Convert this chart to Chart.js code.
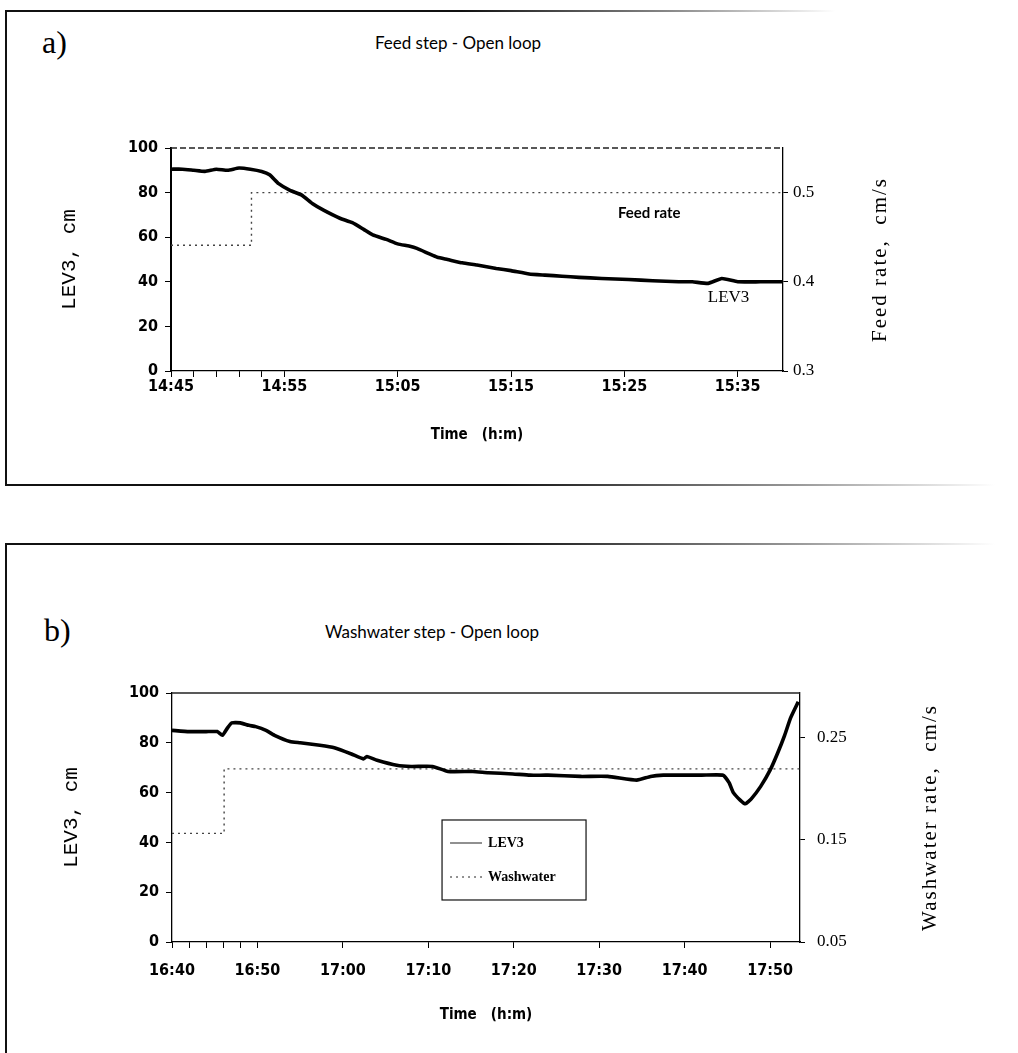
<!DOCTYPE html>
<html>
<head>
<meta charset="utf-8">
<script src="https://cdn.jsdelivr.net/npm/chart.js@4.4.1/dist/chart.umd.min.js"></script>
<style>
  html, body { margin: 0; padding: 0; background: #fff; }
  body { width: 1018px; height: 1053px; position: relative; overflow: hidden; }
  canvas { position: absolute; left: 0; }
  #chart-a { top: 0; }
  #chart-b { top: 520px; }
  .rule { position: absolute; }
  .tag { position: absolute; font-family: 'Liberation Serif', serif; font-size: 32px; color: #000; }
  .ptitle { position: absolute; font-family: Lato, sans-serif; font-size: 17px; color: #000;
            transform: translateX(-50%); white-space: nowrap; }
</style>
</head>
<body>
  <!-- panel frames, faded to the right like the scan -->
  <div class="rule" style="left:5px;top:10px;width:2px;height:475px;background:#111"></div>
  <div class="rule" style="left:5px;top:10px;width:830px;height:1.5px;background:linear-gradient(to right,#111 0%,#111 55%,#888 80%,rgba(0,0,0,0) 100%)"></div>
  <div class="rule" style="left:5px;top:484px;width:990px;height:1.5px;background:linear-gradient(to right,#111 0%,#111 50%,#999 80%,rgba(0,0,0,0) 100%)"></div>
  <div class="rule" style="left:5px;top:543px;width:990px;height:1.5px;background:linear-gradient(to right,#111 0%,#111 50%,#999 80%,rgba(0,0,0,0) 100%)"></div>
  <div class="rule" style="left:5px;top:543px;width:2px;height:510px;background:#111"></div>

  <div class="tag" style="left:42px;top:24px">a)</div>
  <div class="ptitle" style="left:458px;top:32px">Feed step - Open loop</div>
  <div class="tag" style="left:44px;top:612px">b)</div>
  <div class="ptitle" style="left:432px;top:621px">Washwater step - Open loop</div>

  <canvas id="chart-a" width="1018" height="500"></canvas>
  <canvas id="chart-b" width="1018" height="533"></canvas>

<script>
// ---- panel a: minutes after 14:45 ----
const timeA = [0, 1, 2, 3, 4, 5, 6, 7, 8, 8.7, 9.5, 10.5, 11.5, 12.5, 13.5, 14.9, 16, 17, 17.8, 19, 20,
  21, 21.7, 22.8, 23.5, 24.4, 25.7, 27, 28.7, 30, 31.6, 33, 34.5, 36, 38, 40.4, 42.5, 44.8, 46,
  47.4, 48.6, 50, 52, 54];
const lev3A = [90.5, 90.5, 90, 89.5, 90.5, 90, 91, 90.5, 89.5, 88, 84, 81, 79, 75, 72, 68.5, 66.5, 63.5, 61, 59, 57,
  56, 55, 52.5, 51, 50, 48.5, 47.5, 46, 45, 43.5, 43, 42.5, 42, 41.5, 41, 40.5, 40, 40,
  39.3, 41.5, 40, 40, 40];
const feedTime = [0, 7.1, 54];
const feedRate = [0.441, 0.5, 0.5];
const tickMinA = [0, 2, 4, 6, 8, 10, 20, 30, 40, 50];
const tickLabelA = ['14:45', '14:55', '15:05', '15:15', '15:25', '15:35'];
const rateTicksA = [0.3, 0.4, 0.5];

// ---- panel b: minutes after 16:40 ----
const timeB = [0, 2, 4, 5.3, 5.9, 6.5, 7, 8, 9, 9.8, 11, 12, 13.8, 15, 17.3, 19, 21, 22.4, 22.8, 24,
  26.3, 28, 30.5, 32.3, 35.2, 37, 39.9, 41.9, 44, 47.8, 51, 54.4, 56, 57.5, 60, 62, 64.5, 65.2, 65.7, 66.5,
  67.1, 67.8, 68.9, 70, 70.9, 71.7, 72.4, 73.3];
const lev3B = [85, 84.5, 84.5, 84.5, 83, 86, 88, 88, 87, 86.5, 85, 83, 80.5, 80, 79, 78, 75.5, 73.5, 74.5, 73,
  71, 70.5, 70.5, 68.5, 68.5, 68, 67.5, 67, 67, 66.5, 66.5, 65, 66.5, 67, 67, 67, 67, 64, 60, 57,
  55.5, 57.5, 62.5, 69, 76, 83, 90, 96.5];
const washTime = [0, 6.1, 73.5];
const washRate = [0.156, 0.219, 0.219];
const tickMinB = [0, 2, 4, 6, 8, 10, 20, 30, 40, 50, 60, 70];
const tickLabelB = ['16:40', '16:50', '17:00', '17:10', '17:20', '17:30', '17:40', '17:50'];
const rateTicksB = [0.05, 0.15, 0.25];

const levelTicks = [0, 20, 40, 60, 80, 100];

const pts = (xs, ys) => xs.map((x, i) => ({ x: x, y: ys[i] }));
const tickFont = { family: "'DejaVu Sans Condensed', 'DejaVu Sans', sans-serif", size: 16, weight: 'bold' };

// top edge of the plot box
const framePlugin = {
  id: 'frame',
  afterDatasetsDraw(chart, args, o) {
    const ctx = chart.ctx, a = chart.chartArea;
    ctx.save();
    ctx.strokeStyle = '#222';
    ctx.lineWidth = 1.3;
    ctx.setLineDash(o.dash || []);
    ctx.beginPath();
    ctx.moveTo(a.left, a.top);
    ctx.lineTo(a.right, a.top);
    ctx.stroke();
    ctx.restore();
  }
};

// in-plot text labels, placed in data units
const notesPlugin = {
  id: 'notes',
  afterDraw(chart, args, o) {
    if (!o.items) return;
    const ctx = chart.ctx;
    ctx.save();
    ctx.fillStyle = '#000';
    ctx.textAlign = 'center';
    ctx.textBaseline = 'middle';
    o.items.forEach(n => {
      ctx.font = n.font;
      ctx.fillText(n.text, chart.scales.x.getPixelForValue(n.x), chart.scales.y.getPixelForValue(n.y));
    });
    ctx.restore();
  }
};

// boxed legend inside the plot (panel b)
const boxLegendPlugin = {
  id: 'boxLegend',
  afterDraw(chart, args, o) {
    if (!o.w) return;
    const ctx = chart.ctx, a = chart.chartArea;
    const x0 = a.left + o.x * (a.right - a.left), y0 = a.top + o.y * (a.bottom - a.top);
    ctx.save();
    ctx.strokeStyle = '#111';
    ctx.lineWidth = 1.2;
    ctx.strokeRect(x0, y0, o.w, o.h);
    ctx.font = 'bold 14px "Liberation Serif", serif';
    ctx.fillStyle = '#000';
    ctx.textBaseline = 'middle';
    chart.data.datasets.forEach((ds, i) => {
      const yy = y0 + 23 + i * 34;
      ctx.beginPath();
      ctx.setLineDash(ds.borderDash || []);
      ctx.lineWidth = 1.2;
      ctx.strokeStyle = '#222';
      ctx.moveTo(x0 + 8, yy);
      ctx.lineTo(x0 + 40, yy);
      ctx.stroke();
      ctx.fillText(ds.label, x0 + 46, yy);
    });
    ctx.restore();
  }
};

// right-hand axis title, reading bottom to top like the left one
const sideTitlePlugin = {
  id: 'sideTitle',
  afterDraw(chart, args, o) {
    if (!o.text) return;
    const ctx = chart.ctx, s = chart.scales.y1, a = chart.chartArea;
    ctx.save();
    ctx.translate(s.left + o.dx, (a.top + a.bottom) / 2);
    ctx.rotate(-Math.PI / 2);
    ctx.font = o.font;
    ctx.fillStyle = '#000';
    ctx.textAlign = 'center';
    ctx.textBaseline = 'middle';
    if ('letterSpacing' in ctx) ctx.letterSpacing = o.spacing;
    ctx.fillText(o.text, 0, 0);
    ctx.restore();
  }
};

function makeChart(id, p) {
  return new Chart(document.getElementById(id), {
    type: 'line',
    data: {
      datasets: [
        { label: 'LEV3', data: pts(p.time, p.level), yAxisID: 'y', borderColor: '#000',
          borderWidth: 3.6, pointRadius: 0, tension: 0.15 },
        { label: p.rateName, data: pts(p.rateTime, p.rate), yAxisID: 'y1', stepped: true,
          borderColor: '#444', borderWidth: 1.4, borderDash: [2, 4], pointRadius: 0 }
      ]
    },
    options: {
      responsive: false,
      animation: false,
      layout: { padding: p.pad },
      plugins: {
        legend: { display: false },
        tooltip: { enabled: false },
        frame: { dash: p.topDash },
        notes: { items: p.notes },
        boxLegend: p.legend,
        sideTitle: p.sideTitle
      },
      scales: {
        x: {
          type: 'linear', min: 0, max: p.xMax,
          afterBuildTicks: s => { s.ticks = p.xTicks.map(v => ({ value: v })); },
          afterFit: s => { s.height = p.xH; },
          grid: { drawOnChartArea: false, color: '#000', tickLength: 6 },
          border: { color: '#000', width: 1.2 },
          ticks: { color: '#000', font: tickFont, padding: p.xPad, maxRotation: 0, autoSkip: false,
                   callback: v => (v % 10 === 0 ? p.xLabels[v / 10] : '') },
          title: { display: true, text: 'Time   (h:m)', color: '#000',
                   font: { family: "'DejaVu Sans Condensed', 'DejaVu Sans', sans-serif", size: 15, weight: 'bold' },
                   padding: { top: 0, bottom: 4 } }
        },
        y: {
          position: 'left', min: 0, max: 100,
          afterBuildTicks: s => { s.ticks = levelTicks.map(v => ({ value: v })); },
          afterFit: s => { s.width = p.yW; },
          grid: { drawOnChartArea: false, color: '#000', tickLength: 6 },
          border: { color: '#000', width: p.yBorder },
          ticks: { color: '#000', font: tickFont, padding: 7 },
          title: { display: true, text: 'LEV3, cm', color: '#000',
                   font: { family: "'Liberation Mono', monospace", size: 21 },
                   padding: { top: 4, bottom: 4 } }
        },
        y1: {
          position: 'right', min: p.rMin, max: p.rMax,
          afterBuildTicks: s => { s.ticks = p.rTicks.map(v => ({ value: v })); },
          afterFit: s => { s.width = p.rW; },
          grid: { drawOnChartArea: false, color: '#000', tickLength: 5 },
          border: { color: '#000', width: 1.3 },
          ticks: { color: '#000', font: { family: "'Liberation Serif', serif", size: 17 },
                   padding: p.rPad, callback: v => v.toFixed(p.rDigits) }
        }
      }
    },
    plugins: [framePlugin, notesPlugin, boxLegendPlugin, sideTitlePlugin]
  });
}

makeChart('chart-a', {
  time: timeA, level: lev3A, rateTime: feedTime, rate: feedRate, rateName: 'Feed rate',
  xMax: 54, xTicks: tickMinA, xLabels: tickLabelA, xH: 77, xPad: 0,
  rMin: 0.3, rMax: 0.55, rTicks: rateTicksA, rDigits: 1, rW: 120, rPad: 5,
  yW: 118, yBorder: 2,
  pad: { left: 53, right: 115, top: 148, bottom: 52 },
  topDash: [6, 3],
  notes: [
    { text: 'Feed rate', x: 42.2, y: 71, font: 'bold 15px Lato, sans-serif' },
    { text: 'LEV3', x: 49.2, y: 33, font: '17px "Liberation Serif", serif' }
  ],
  legend: {},
  sideTitle: { text: 'Feed rate,  cm/s', dx: 97, font: '21px "Liberation Serif", serif', spacing: '2px' }
});

makeChart('chart-b', {
  time: timeB, level: lev3B, rateTime: washTime, rate: washRate, rateName: 'Washwater',
  xMax: 73.5, xTicks: tickMinB, xLabels: tickLabelB, xH: 86, xPad: 13,
  rMin: 0.05, rMax: 0.293, rTicks: rateTicksB, rDigits: 2, rW: 150, rPad: 12,
  yW: 117, yBorder: 1.3,
  pad: { left: 55, right: 68, top: 173, bottom: 25 },
  topDash: [],
  notes: [],
  legend: { x: 0.43, y: 0.51, w: 144, h: 80 },
  sideTitle: { text: 'Washwater rate,  cm/s', dx: 130, font: '21px "Liberation Serif", serif', spacing: '2px' }
});
</script>
</body>
</html>
